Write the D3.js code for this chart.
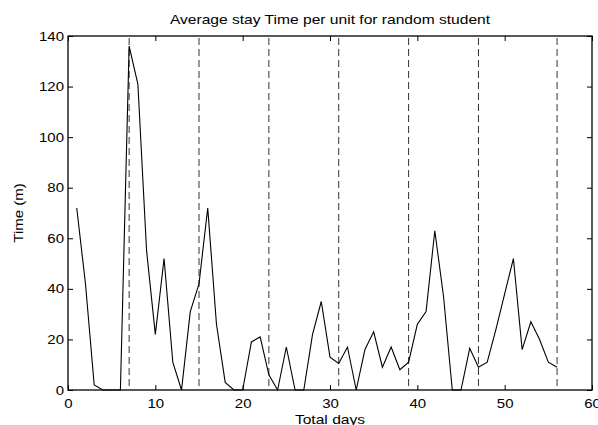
<!DOCTYPE html>
<html>
<head>
<meta charset="utf-8">
<script src="https://cdn.jsdelivr.net/npm/d3@7"></script>
<style>
  body { margin: 0; background: #fff; }
  text { font-family: "Liberation Sans", Arial, sans-serif; fill: #000; }
</style>
</head>
<body>
<div id="graph"></div>
<script>
var days = d3.range(1, 57)
var stayTime = [
  72, 42, 2, 0, 0, 0, 136, 121, 55, 22,
  52, 11, 0, 31, 42, 72, 26, 3, 0, 0,
  19, 21, 6, 0, 17, 0, 0, 22, 35, 13,
  10.5, 17, 0, 16, 23, 9, 17, 8, 11, 26,
  31, 63, 37, 0, 0, 16.5, 9, 11, 24, 38,
  52, 16, 27, 20, 11, 9
]
var unitBreaks = [7, 15, 23, 31, 39, 47, 56]
var xTicks = [0, 10, 20, 30, 40, 50, 60]
var yTicks = [0, 20, 40, 60, 80, 100, 120, 140]

var title = 'Average stay Time per unit for random student'
var xLabel = 'Total days'
var yLabel = 'Time (m)'

var W = 598, H = 425
var margin = {top: 36, right: 6, bottom: 35, left: 68}
var width = W - margin.left - margin.right
var height = H - margin.top - margin.bottom
var stretch = 1.2 // the reference's text is a bit wide

var svg = d3.select('#graph').append('svg')
  .attr('width', W).attr('height', H)

var g = svg.append('g')
  .attr('transform', `translate(${margin.left},${margin.top})`)

var x = d3.scaleLinear().domain([0, 60]).range([0, width])
var y = d3.scaleLinear().domain([0, 140]).range([height, 0])

// dashed unit separators
g.selectAll('line.brk').data(unitBreaks).join('line')
  .attr('class', 'brk')
  .attr('x1', d => x(d)).attr('x2', d => x(d))
  .attr('y1', y(140) + 2).attr('y2', y(0))
  .attr('stroke', '#333')
  .attr('stroke-width', 1)
  .attr('stroke-dasharray', '7,4')

var line = d3.line()
  .x((d, i) => x(days[i]))
  .y(d => y(d))

g.append('path')
  .datum(stayTime)
  .attr('d', line)
  .attr('fill', 'none')
  .attr('stroke', '#000')
  .attr('stroke-width', 1.1)

// axes, matlab style: ticks inward on all four sides
var fmt = d3.format('d')
function styleAxis(sel) {
  sel.select('.domain').remove()
  sel.selectAll('.tick line').attr('stroke', '#000')
  sel.selectAll('.tick text')
    .style('font-size', '12.5px')
    .style('font-family', '"Liberation Sans", Arial, sans-serif')
}

g.append('g')
  .attr('transform', `translate(0,${height})`)
  .call(d3.axisBottom(x).tickValues(xTicks).tickFormat(fmt).tickSizeInner(-5).tickPadding(9))
  .call(styleAxis)
  .selectAll('.tick text')
  .attr('transform', `scale(${stretch},1)`)

g.append('g')
  .call(d3.axisTop(x).tickValues(xTicks).tickSizeInner(-5).tickFormat(''))
  .call(styleAxis)

g.append('g')
  .call(d3.axisLeft(y).tickValues(yTicks).tickFormat(fmt).tickSizeInner(-5).tickPadding(9))
  .call(styleAxis)
  .selectAll('.tick text')
  .attr('x', -4 / stretch)
  .attr('transform', `scale(${stretch},1)`)

g.append('g')
  .attr('transform', `translate(${width},0)`)
  .call(d3.axisRight(y).tickValues(yTicks).tickSizeInner(-5).tickFormat(''))
  .call(styleAxis)

g.append('rect')
  .attr('width', width).attr('height', height)
  .attr('fill', 'none')
  .attr('stroke', '#000')
  .attr('stroke-width', 1.3)

svg.append('text')
  .attr('transform', `translate(${margin.left + width / 2},24) scale(${stretch},1)`)
  .attr('text-anchor', 'middle')
  .style('font-size', '13px')
  .text(title)

svg.append('text')
  .attr('transform', `translate(${margin.left + width / 2},${H - 1.5}) scale(${stretch},1)`)
  .attr('text-anchor', 'middle')
  .style('font-size', '13px')
  .text(xLabel)

svg.append('text')
  .attr('transform', `translate(22.5,${margin.top + height / 2}) rotate(-90) scale(${stretch},1)`)
  .attr('text-anchor', 'middle')
  .style('font-size', '12.5px')
  .text(yLabel)
</script>
</body>
</html>
